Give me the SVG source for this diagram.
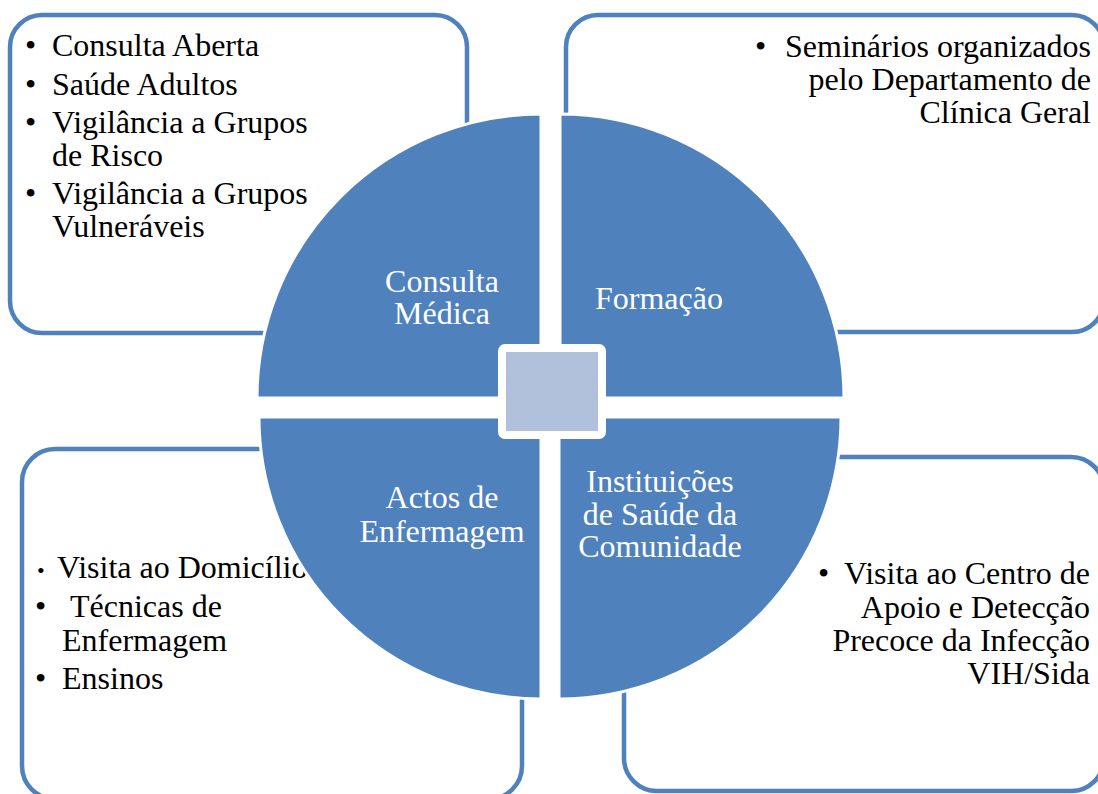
<svg xmlns="http://www.w3.org/2000/svg" width="1098" height="794" viewBox="0 0 1098 794">
<style>
.box{fill:#FFFFFF;stroke:#4F81BD;stroke-width:4.5}
text{font-family:'Liberation Serif','Times New Roman','DejaVu Serif',serif;font-size:32px}
.t{fill:#000000}
.w{fill:#FFFFFF;text-anchor:middle}
.q{fill:#4F81BD;stroke:#FFFFFF;stroke-width:3}
.end{text-anchor:end}
</style>
<rect width="1098" height="794" fill="#FFFFFF"/>
<g id="box-consulta">
<rect class="box" x="10" y="15" width="457" height="318" rx="32"/>
<text class="t" x="25" y="56">•</text><text class="t" x="52" y="56">Consulta Aberta</text>
<text class="t" x="25" y="95">•</text><text class="t" x="52" y="95">Saúde Adultos</text>
<text class="t" x="25" y="133">•</text><text class="t" x="52" y="133">Vigilância a Grupos</text>
<text class="t" x="52" y="166">de Risco</text>
<text class="t" x="25" y="204">•</text><text class="t" x="52" y="204">Vigilância a Grupos</text>
<text class="t" x="52" y="237">Vulneráveis</text>
</g>
<g id="box-formacao">
<rect class="box" x="566" y="15" width="538" height="317" rx="32"/>
<text class="t" x="755" y="57">•</text>
<text class="t end" x="1091" y="57">Seminários organizados</text>
<text class="t end" x="1091" y="90">pelo Departamento de</text>
<text class="t end" x="1091" y="123">Clínica Geral</text>
</g>
<g id="box-actos">
<rect class="box" x="22" y="449" width="500" height="350" rx="33"/>
<text class="t" x="37" y="578" style="font-size:22px">•</text><text class="t" x="57" y="578">Visita ao Domicílio</text>
<text class="t" x="35" y="617">•</text><text class="t" x="70" y="617">Técnicas de</text>
<text class="t" x="62" y="651">Enfermagem</text>
<text class="t" x="35" y="689">•</text><text class="t" x="62" y="689">Ensinos</text>
</g>
<g id="box-instituicoes">
<rect class="box" x="624" y="457" width="480" height="334" rx="33"/>
<text class="t" x="818" y="584">•</text>
<text class="t end" x="1090" y="584">Visita ao Centro de</text>
<text class="t end" x="1090" y="618">Apoio e Detecção</text>
<text class="t end" x="1090" y="651">Precoce da Infecção</text>
<text class="t end" x="1090" y="684">VIH/Sida</text>
</g>
<g id="q-consulta">
<path class="q" d="M541,398 L257,398 A284,284 0 0 1 541,114 Z"/>
<text class="w" x="442" y="292">Consulta</text>
<text class="w" x="442" y="324">Médica</text>
</g>
<g id="q-formacao">
<path class="q" d="M560,398 L560,114 A284,284 0 0 1 844,398 Z"/>
<text class="w" x="659" y="309">Formação</text>
</g>
<g id="q-actos">
<path class="q" d="M541,417 L541,699 A282,282 0 0 1 259,417 Z"/>
<text class="w" x="442" y="508">Actos de</text>
<text class="w" x="442" y="542">Enfermagem</text>
</g>
<g id="q-instituicoes">
<path class="q" d="M559,417 L841,417 A282,282 0 0 1 559,699 Z"/>
<text class="w" x="660" y="492">Instituições</text>
<text class="w" x="660" y="525">de Saúde da</text>
<text class="w" x="660" y="557">Comunidade</text>
</g>
<g id="center">
<rect x="502" y="348" width="100" height="87" rx="3" fill="#B2C1DB" stroke="#FFFFFF" stroke-width="8"/>
</g>
<g id="connectors"></g>
</svg>
